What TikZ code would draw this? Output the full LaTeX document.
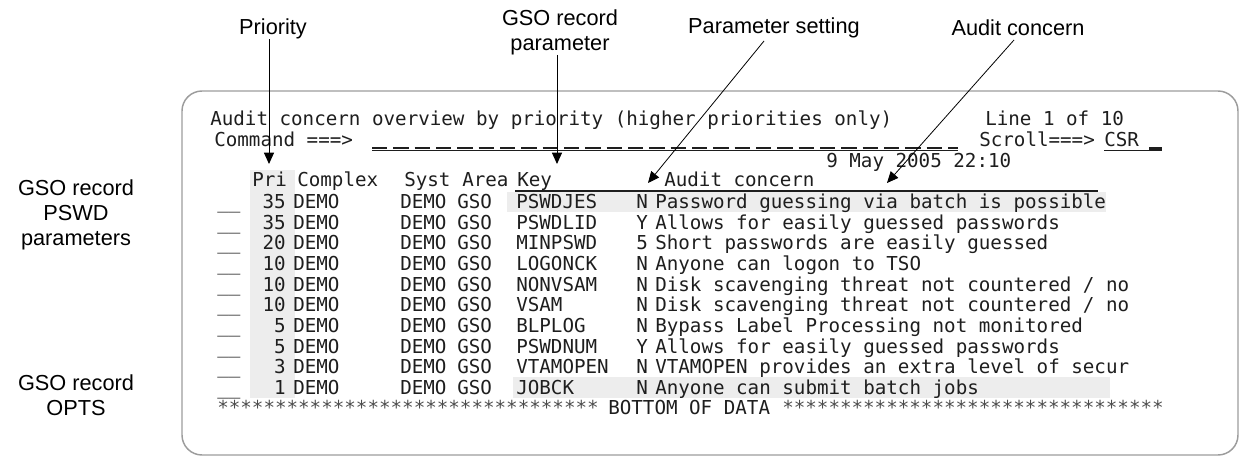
\documentclass[tikz,border=0pt]{standalone}
\usepackage{fontspec}
\setmainfont{Liberation Sans}
\newfontfamily\scrfont{DejaVu Sans Mono}
\usetikzlibrary{arrows.meta}
\definecolor{hlgray}{HTML}{EDEDED}
\definecolor{boxgray}{HTML}{9C9C9C}
\definecolor{scrtext}{HTML}{1E1E1E}
\tikzset{
  lbl/.style={font=\fontsize{16.3}{18.75}\selectfont, align=center, inner sep=0pt},
  tx/.style={font=\scrfont\fontsize{14.4}{16}\selectfont, anchor=base west, inner sep=0pt, text=scrtext},
  txr/.style={tx, anchor=base east},
  arr/.style={line width=0.75pt, -{Triangle[length=8.5pt,width=7.5pt]}},
  sarr/.style={line width=0.6pt, -{Triangle[length=8.5pt,width=7.5pt]}},
  hl/.style={fill=hlgray},
}
\newcommand\tabrow[5]{%
  \pgfmathsetmacro\rowy{208.5+20.67*(#1-1)}%
  \node[tx] (u#1) at (217,\rowy) {\_\_};
  \node[txr] (p#1) at (286,\rowy) {#2};
  \node[tx] (c#1) at (293,\rowy) {DEMO};
  \node[tx] (y#1) at (400,\rowy) {DEMO};
  \node[tx] (r#1) at (457,\rowy) {GSO};
  \node[tx] (k#1) at (516,\rowy) {#3};
  \node[tx] (s#1) at (636,\rowy) {#4};
  \node[tx] (t#1) at (655,\rowy) {#5};
}
\begin{document}
\begin{tikzpicture}[x=0.75pt,y=-0.75pt]
\useasboundingbox (0,0) rectangle (1240,457);

% screen frame
\draw[boxgray, line width=1.1pt, rounded corners=15pt] (182,91) rectangle (1238,455);

% highlights
\fill[hl] (250,170) rectangle (295,398);
\fill[hl] (507,192) rectangle (1106,212);
\fill[hl] (513,377) rectangle (1110,398);

% header lines
\node[tx] (title) at (210,125) {Audit concern overview by priority (higher priorities only)};
\node[tx] (linecnt) at (985,125) {Line 1 of 10};
\node[tx] (cmd) at (214,146) {Command ===>};
\node[tx] (scroll) at (979,146) {Scroll===>};
\node[tx] (csr) at (1104,146) {CSR};
\draw[scrtext, line width=0.7pt] (372,150) -- (958,150);
\draw[scrtext, line width=2pt, dash pattern=on 11.5 off 4.5] (372,148) -- (958,148);
\draw[scrtext, line width=0.7pt] (csr.base west) ++(0,4) -- (1162,150);
\draw[scrtext, line width=2pt] (1149,148.5) -- (1162,148.5);
\node[tx] (date) at (826,167) {9 May 2005 22:10};

% column header
\node[tx] (hPri) at (252,186) {Pri};
\node[tx] (hCpx) at (297,186) {Complex};
\node[tx] (hSys) at (404,186) {Syst};
\node[tx] (hAre) at (462,186) {Area};
\node[tx] (hKey) at (517,186) {Key};
\node[tx] (hAud) at (664,186) {Audit concern};
\draw[scrtext, line width=1.8pt] (515,191) -- (1098,191);

% rows
\tabrow{1}{35}{PSWDJES}{N}{Password guessing via batch is possible}
\tabrow{2}{35}{PSWDLID}{Y}{Allows for easily guessed passwords}
\tabrow{3}{20}{MINPSWD}{5}{Short passwords are easily guessed}
\tabrow{4}{10}{LOGONCK}{N}{Anyone can logon to TSO}
\tabrow{5}{10}{NONVSAM}{N}{Disk scavenging threat not countered / no}
\tabrow{6}{10}{VSAM}{N}{Disk scavenging threat not countered / no}
\tabrow{7}{5}{BLPLOG}{N}{Bypass Label Processing not monitored}
\tabrow{8}{5}{PSWDNUM}{Y}{Allows for easily guessed passwords}
\tabrow{9}{3}{VTAMOPEN}{N}{VTAMOPEN provides an extra level of secur}
\tabrow{10}{1}{JOBCK}{N}{Anyone can submit batch jobs}

\node[tx, text=black!70] (starL) at (217,414) {*********************************};
\node[tx] (bottom) at (608,414) {BOTTOM OF DATA};
\node[tx, text=black!70] (starR) at (782,414) {*********************************};

% labels
\node[lbl] (lPri) at (273,29) {Priority};
\node[lbl] (lGSO) at (560,32) {GSO record\\parameter};
\node[lbl] (lSet) at (774,28) {Parameter setting};
\node[lbl] (lAud) at (1018,28) {Audit concern};
\node[lbl] (lPSWD) at (76,215) {GSO record\\PSWD\\parameters};
\node[lbl] (lOPTS) at (76,395) {GSO record\\OPTS};

% arrows
\coordinate (pTip) at (269,164);
\coordinate (gTip) at (557,164);
\coordinate (sStart) at (764,41);
\coordinate (sTip) at (648,183);
\coordinate (aStart) at (1014,40);
\coordinate (aTip) at (887,183);
\draw[arr] (lPri.south -| pTip) -- (pTip);
\draw[arr] (lGSO.south -| gTip) -- (gTip);
\draw[sarr] (sStart) -- (sTip);
\draw[sarr] (aStart) -- (aTip);
\end{tikzpicture}
\end{document}
